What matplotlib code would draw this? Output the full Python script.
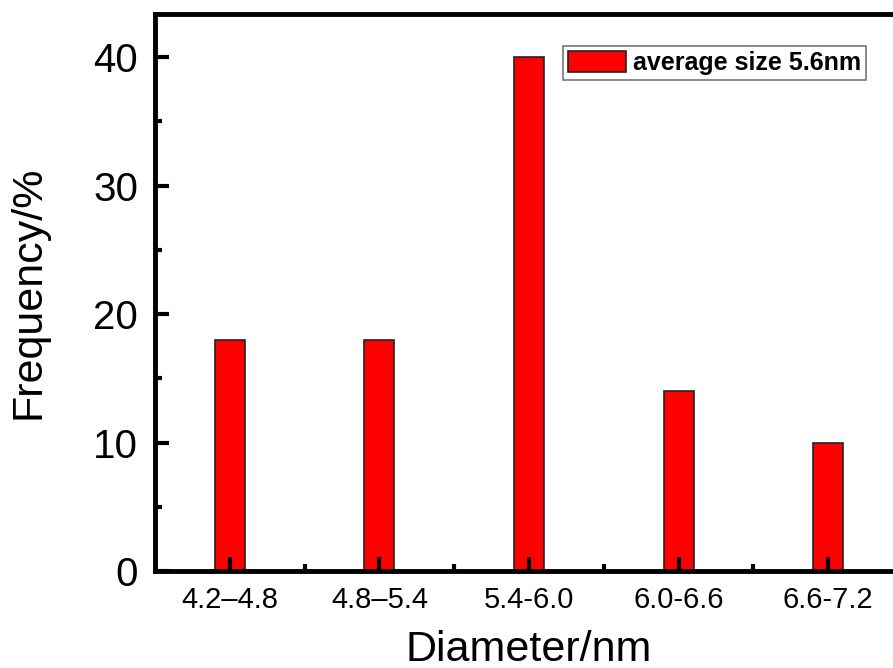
import matplotlib
matplotlib.use("Agg")
import matplotlib.pyplot as plt
from matplotlib.ticker import MultipleLocator, FixedLocator

categories = ["4.2\u20134.8", "4.8\u20135.4", "5.4-6.0", "6.0-6.6", "6.6-7.2"]
frequency = [18, 18, 40, 14, 10]
legend_label = "average size 5.6nm"

plt.rcParams['font.family'] = ['Liberation Sans', 'DejaVu Sans']

fig = plt.figure(figsize=(8.93, 6.68), dpi=100)
ax = fig.add_axes([155/893, 1-571/668, (903-155)/893, (571-14)/668])

x = list(range(len(categories)))
ax.bar(x, frequency, width=0.2, color='#ff0000', edgecolor='#222222', linewidth=1.2,
       label=legend_label, zorder=1)

ax.set_xlim(-0.5, len(categories) - 0.5)
ax.set_ylim(0, 43.35)
ax.set_xticks(x)
ax.set_xticklabels(categories, fontsize=21)
ax.xaxis.set_minor_locator(FixedLocator([i + 0.5 for i in range(len(categories) - 1)]))
ax.yaxis.set_major_locator(MultipleLocator(10))
ax.yaxis.set_minor_locator(MultipleLocator(5))
ax.tick_params(axis='y', labelsize=29)
ax.tick_params(which='major', direction='in', length=10, width=3, pad=12)
ax.tick_params(axis='x', which='major', pad=11)
ax.tick_params(which='minor', direction='in', length=5, width=3)
ax.tick_params(top=False, right=False, which='both')

for s in ax.spines.values():
    s.set_linewidth(3.5)

ax.set_xlabel("Diameter/nm", fontsize=31, labelpad=11)
ax.set_ylabel("Frequency/%", fontsize=31, labelpad=32)

leg = ax.legend(loc='upper left', bbox_to_anchor=((563-155)/748, 1-(46-14)/557),
                prop={'weight': 'bold', 'size': 18}, frameon=True, fancybox=False,
                borderpad=0.2, handlelength=2.3, handleheight=0.9, handletextpad=0.3,
                borderaxespad=0)
leg.get_frame().set_edgecolor('#555555')
leg.get_frame().set_linewidth(1.2)

fig.savefig("out.png", dpi=100)
